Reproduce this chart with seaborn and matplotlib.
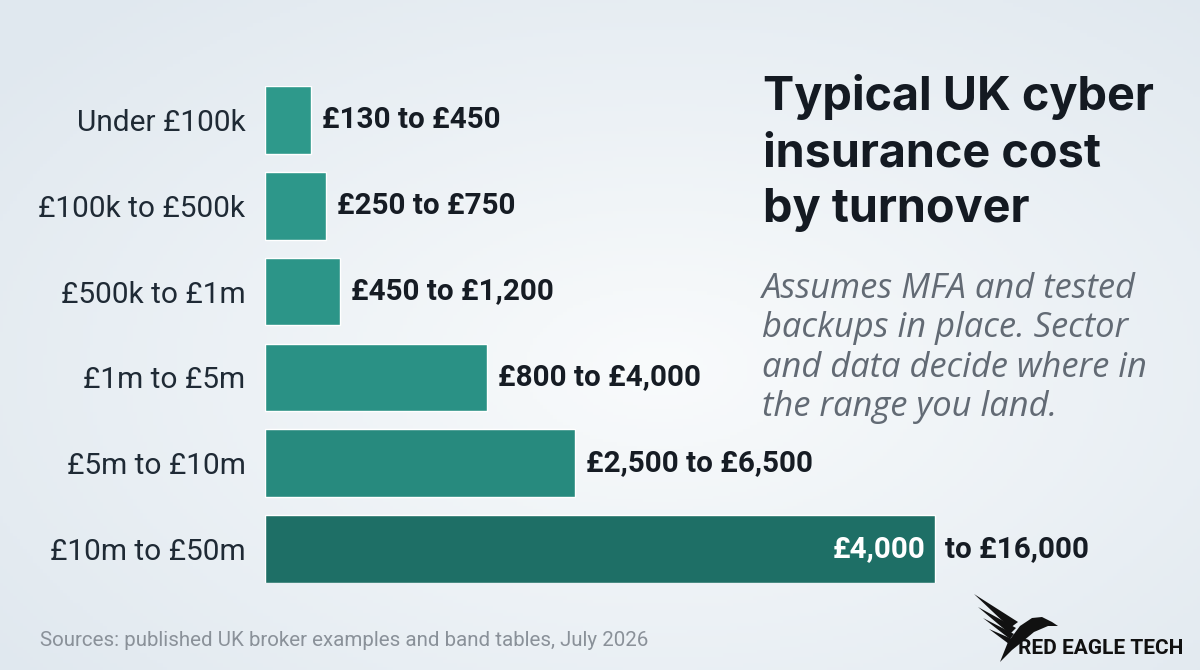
import numpy as np
import pandas as pd
import matplotlib.pyplot as plt
from matplotlib.patches import Polygon
import seaborn as sns

# --- data ---
bands = ['Under £100k', '£100k to £500k', '£500k to £1m',
         '£1m to £5m', '£5m to £10m', '£10m to £50m']
low = [130, 250, 450, 800, 2500, 4000]
high = [450, 750, 1200, 4000, 6500, 16000]
# drawn bar length, on a £ scale where the last bar ends at £16,000
bar_len = [1100, 1450, 1800, 5300, 7400, 16000]
bar_colors = ['#2e998b', '#2d978a', '#2c9588', '#2a9185', '#278a7e', '#1e6f66']

df = pd.DataFrame({'band': bands, 'low': low, 'high': high, 'len': bar_len})

sns.set_theme(style='white')
plt.rcParams['font.family'] = ['Roboto', 'DejaVu Sans']

fig = plt.figure(figsize=(12, 6.7), dpi=100)

# soft background
bg = fig.add_axes([0, 0, 1, 1], zorder=-10)
yy, xx = np.mgrid[0:1:200j, 0:1:360j]
r = np.sqrt(((xx - 0.55) / 0.7) ** 2 + ((yy - 0.55) / 0.75) ** 2)
bg.imshow(np.clip(r, 0, 1), cmap=sns.blend_palette(['#f9fbfc', '#e0e8ef'], as_cmap=True),
          extent=[0, 1, 0, 1], aspect='auto', vmin=0, vmax=1)
bg.axis('off')

ax = fig.add_axes([265 / 1200, 87 / 670, 935 / 1200, 497 / 670])
ax.set_facecolor('none')
sns.barplot(data=df, y='band', x='len', hue='band', palette=bar_colors,
            legend=False, width=0.79, saturation=1, ax=ax)
ax.set_xlim(0, 16000 * 935 / 670)
ax.set_ylim(5.395, -0.395)
ax.set_xlabel('')
ax.set_ylabel('')
ax.set_xticks([])
ax.tick_params(axis='y', length=0, pad=14, labelsize=21.5, labelcolor='#1f2a35')
sns.despine(ax=ax, left=True, bottom=True)

for i, row in df.iterrows():
    if i == len(df) - 1:
        ax.annotate(f'£{row["low"]:,}', (row['len'], i), xytext=(-7, 0),
                    textcoords='offset points', ha='right', va='center',
                    fontsize=21.3, fontweight='bold', color='white')
        ax.annotate(f'to £{row["high"]:,}', (row['len'], i), xytext=(7, 0),
                    textcoords='offset points', ha='left', va='center',
                    fontsize=21.3, fontweight='bold', color='#161c24')
    else:
        ax.annotate(f'£{row["low"]:,} to £{row["high"]:,}', (row['len'], i),
                    xytext=(8, 0), textcoords='offset points', ha='left', va='center',
                    fontsize=21.3, fontweight='bold', color='#161c24')

# title and note
fig.text(763 / 1200, 1 - 74 / 670, 'Typical UK cyber\ninsurance cost\nby turnover',
         family=['Inter', 'DejaVu Sans'], fontweight='bold', fontsize=33.7,
         color='#141a22', ha='left', va='top', linespacing=1.36)
fig.text(762 / 1200, 1 - 272 / 670,
         'Assumes MFA and tested\nbackups in place. Sector\nand data decide where in\nthe range you land.',
         family=['Open Sans', 'DejaVu Sans'], style='italic',
         fontsize=24.8, color='#626a74', ha='left', va='top', linespacing=1.21)

fig.text(40 / 1200, 1 - 641 / 670,
         'Sources: published UK broker examples and band tables, July 2026',
         fontsize=14.8, color='#8a9199', ha='left', va='center')

# logo
fig.text(1018 / 1200, 1 - 648 / 670, 'RED EAGLE TECH', fontsize=15,
         fontweight='bold', color='#111111', ha='left', va='center')
lg = fig.add_axes([972 / 1200, 1 - 664 / 670, 90 / 1200, 72 / 670])
lg.set_xlim(0, 90)
lg.set_ylim(0, 72)
lg.axis('off')
wings = [
    [(2, 70), (46, 42), (38, 36)],
    [(6, 57), (44, 36), (38, 30)],
    [(11, 46), (42, 30), (38, 25)],
    [(17, 35), (40, 25), (37, 20)],
    [(28, 2), (36, 22), (48, 38), (60, 46), (70, 47), (80, 42), (86, 38), (76, 38), (62, 32), (50, 22), (40, 14)],
]
for w in wings:
    lg.add_patch(Polygon(w, closed=True, color='#111111', lw=0))

fig.savefig('out.png', dpi=100)
